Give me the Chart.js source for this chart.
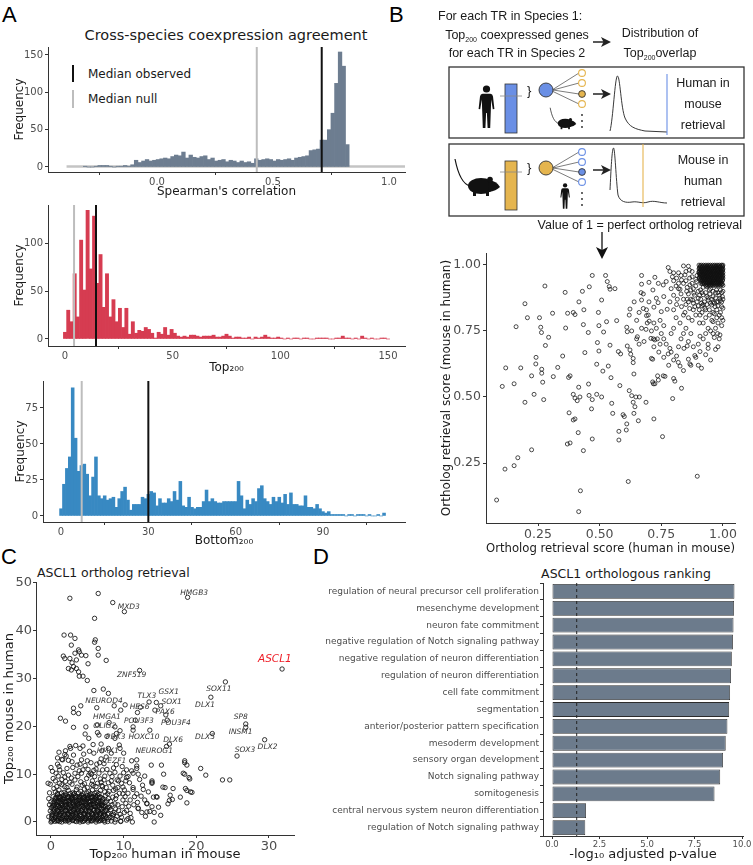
<!DOCTYPE html>
<html>
<head>
<meta charset="utf-8">
<title>Cross-species coexpression</title>
<script src="https://cdn.jsdelivr.net/npm/chart.js"></script>
<style>
  body { margin: 0; width: 753px; height: 865px; position: relative; background: #fff; overflow: hidden;
         font-family: 'DejaVu Sans', sans-serif; color: #1a1a1a; }
  canvas, svg { position: absolute; }
  .letter { position: absolute; font-family: 'Liberation Sans', Arial, sans-serif; font-size: 22px; line-height: 1; color: #000; }
  .ttl { position: absolute; white-space: nowrap; transform: translate(-50%, -50%); }
  .ttl.left { transform: translate(0, -50%); }
  .key { position: absolute; width: 2px; }
</style>
</head>
<body>

<div class="letter" style="left:2px;top:4px">A</div>
<div class="letter" style="left:389px;top:4px">B</div>
<div class="letter" style="left:1px;top:546px">C</div>
<div class="letter" style="left:313px;top:546px">D</div>

<div class="ttl" style="left:226px;top:35px;font-size:14.5px">Cross-species coexpression agreement</div>
<div class="key" style="left:72px;top:65px;height:17px;background:#111"></div>
<div class="ttl left" style="left:88px;top:74px;font-size:12px">Median observed</div>
<div class="key" style="left:72px;top:90px;height:18px;background:#bdbdbd"></div>
<div class="ttl left" style="left:88px;top:99px;font-size:12px">Median null</div>

<div class="ttl left" style="left:37px;top:572px;font-size:12.5px">ASCL1 ortholog retrieval</div>
<div class="ttl" style="left:626px;top:573px;font-size:12.5px">ASCL1 orthologous ranking</div>

<canvas id="histCor" width="410" height="182" style="left:0;top:20px"></canvas>
<canvas id="histTop" width="410" height="183" style="left:0;top:195px"></canvas>
<canvas id="histBottom" width="410" height="180" style="left:0;top:372px"></canvas>
<canvas id="retrieval" width="328" height="313" style="left:425px;top:245px"></canvas>
<canvas id="ascl1" width="300" height="305" style="left:0;top:560px"></canvas>
<canvas id="goBars" width="443" height="305" style="left:310px;top:560px"></canvas>

<!-- schematic of panel B -->
<svg width="373" height="262" style="left:380px;top:0" font-family="'Liberation Sans', Arial, sans-serif" font-size="12.5" fill="#1a1a1a">
  <defs>
    <g id="human" fill="#111">
      <circle cx="8.5" cy="4" r="3.6"/>
      <path d="M4.6,8.8 L12.4,8.8 Q14.6,9 15,11.5 L16.4,24 L14.8,24.3 L13.2,14.5 L12.8,26 L12.2,43 L9.6,43 L8.9,28 L8.1,28 L7.4,43 L4.8,43 L4.2,26 L3.8,14.5 L2.2,24.3 L0.6,24 L2,11.5 Q2.4,9 4.6,8.8 Z"/>
    </g>
    <g id="mouse">
      <path d="M17,30 C9,28 5,18 2,3" fill="none" stroke="#111" stroke-width="1.2"/>
      <ellipse cx="28" cy="30" rx="13" ry="8" fill="#111"/>
      <path d="M35,24 Q44,25 47,31 Q43,35 36,36 Z" fill="#111"/>
      <circle cx="37" cy="23.5" r="2.8" fill="#111"/>
      <rect x="20" y="36" width="3" height="4" fill="#111"/>
      <rect x="33" y="35" width="3" height="5" fill="#111"/>
    </g>
  </defs>

  <text x="58" y="20">For each TR in Species 1:</text>
  <text x="137" y="39" text-anchor="middle">Top<tspan font-size="7" dy="3">200</tspan><tspan dy="-3"> coexpressed genes</tspan></text>
  <text x="137" y="57" text-anchor="middle">for each TR in Species 2</text>
  <path d="M213,42 H224" stroke="#222" stroke-width="1.5"/>
  <path d="M221,37 L231,42 L221,47 L223.5,42 Z" fill="#222"/>
  <text x="280" y="37" text-anchor="middle">Distribution of</text>
  <text x="280" y="57" text-anchor="middle">Top<tspan font-size="7" dy="3">200</tspan><tspan dy="-3">overlap</tspan></text>

  <rect x="69" y="67" width="295" height="71" fill="none" stroke="#333" stroke-width="1.3"/>
  <rect x="69" y="144" width="295" height="72" fill="none" stroke="#333" stroke-width="1.3"/>

  <!-- human in mouse -->
  <use href="#human" transform="translate(98,85)"/>
  <rect x="125" y="84" width="12" height="49" fill="#6a8fe5" stroke="#333" stroke-width="0.8"/>
  <path d="M120,96 H142" stroke="#888" stroke-width="0.8"/>
  <text x="147" y="95" font-size="13">}</text>
  <g stroke="#444" stroke-width="0.7">
    <path d="M172,90 L199,73 M173,90 L199,83 M173,90 L199,94 M172,91 L199,104"/>
  </g>
  <circle cx="166" cy="90" r="7" fill="#6a8fe5" stroke="#333" stroke-width="0.9"/>
  <circle cx="202" cy="73" r="3.4" fill="#fff" stroke="#e5b54f" stroke-width="1.1"/>
  <circle cx="202" cy="83" r="3.4" fill="#fff" stroke="#e5b54f" stroke-width="1.1"/>
  <circle cx="202" cy="94" r="3.4" fill="#e5b54f" stroke="#333" stroke-width="0.9"/>
  <circle cx="202" cy="104" r="3.4" fill="#fff" stroke="#e5b54f" stroke-width="1.1"/>
  <circle cx="202" cy="115" r="0.9" fill="#222"/><circle cx="202" cy="121" r="0.9" fill="#222"/><circle cx="202" cy="127" r="0.9" fill="#222"/>
  <use href="#mouse" transform="translate(169,106) scale(0.58)"/>
  <path d="M213,94 H224" stroke="#222" stroke-width="1.5"/>
  <path d="M221,89 L231,94 L221,99 L223.5,94 Z" fill="#222"/>
  <path d="M230,131 C233,120 235,76 237.5,76 C240,76 241,108 245,118 C249,127 255,129 265,131 L287,132" fill="none" stroke="#222" stroke-width="0.9"/>
  <path d="M287,74 V135" stroke="#6a8fe5" stroke-width="1.1"/>
  <text x="323" y="87" text-anchor="middle">Human in</text>
  <text x="323" y="108" text-anchor="middle">mouse</text>
  <text x="323" y="129" text-anchor="middle">retrieval</text>

  <!-- mouse in human -->
  <use href="#mouse" transform="translate(73,156)"/>
  <rect x="125" y="161" width="12" height="49" fill="#e5b54f" stroke="#333" stroke-width="0.8"/>
  <path d="M120,172 H142" stroke="#888" stroke-width="0.8"/>
  <text x="147" y="172" font-size="13">}</text>
  <g stroke="#444" stroke-width="0.7">
    <path d="M172,168 L199,152 M173,168 L199,162 M173,168 L199,172 M172,169 L199,182"/>
  </g>
  <circle cx="166" cy="168" r="7" fill="#e5b54f" stroke="#333" stroke-width="0.9"/>
  <circle cx="202" cy="152" r="3.4" fill="#fff" stroke="#6a8fe5" stroke-width="1.1"/>
  <circle cx="202" cy="162" r="3.4" fill="#fff" stroke="#6a8fe5" stroke-width="1.1"/>
  <circle cx="202" cy="172" r="3.4" fill="#6a8fe5" stroke="#333" stroke-width="0.9"/>
  <circle cx="202" cy="182" r="3.4" fill="#fff" stroke="#6a8fe5" stroke-width="1.1"/>
  <circle cx="202" cy="193" r="0.9" fill="#222"/><circle cx="202" cy="199" r="0.9" fill="#222"/><circle cx="202" cy="205" r="0.9" fill="#222"/>
  <use href="#human" transform="translate(180,183) scale(0.6)"/>
  <path d="M213,170 H224" stroke="#222" stroke-width="1.5"/>
  <path d="M221,165 L231,170 L221,175 L223.5,170 Z" fill="#222"/>
  <path d="M230,190 C231,170 232,148 233.5,148 C235,148 236,180 238,195 C240,202 246,203 252,202 C258,201 262,204 268,202 C274,200 280,203 287,203" fill="none" stroke="#222" stroke-width="0.9"/>
  <path d="M263,144 V207" stroke="#e5b54f" stroke-width="1.1"/>
  <text x="323" y="164" text-anchor="middle">Mouse in</text>
  <text x="323" y="185" text-anchor="middle">human</text>
  <text x="323" y="206" text-anchor="middle">retrieval</text>

  <text x="362" y="229" text-anchor="end">Value of 1 = perfect ortholog retrieval</text>
  <path d="M222,232 V250" stroke="#111" stroke-width="1.3"/>
  <path d="M216,247 L222,259 L228,247 L222,250 Z" fill="#111"/>
</svg>

<script>
// ---- panel A: histograms (bin centre of first bar, bin width, counts) ----
var corBinStart = -0.31, corBinWidth = 0.0157;
var corCounts = [1, 0, 0, 1, 2, 2, 2, 1, 0, 1, 1, 2, 1, 3,
  9, 6, 8, 10, 8, 9, 10, 11, 12, 11, 14, 16, 15, 20, 12, 16, 13, 12, 14, 15, 10, 12, 8, 9, 10, 7, 9, 8, 6, 8, 6, 7, 5,
  11, 9, 10, 11, 10, 8, 10, 9, 10, 11, 9, 12,
  13, 14, 15, 22, 23,
  24, 36, 36, 50, 72, 112, 154, 135, 30];
var corNullRange = [-0.39, 1.07];
var corMedians = {observed: 0.71, nullValue: 0.43};

var topBinStart = 0, topBinWidth = 1.5;
var topCounts = [7, 30, 18, 68, 23, 103, 51, 134, 73, 128,
  58, 88, 33, 68, 23, 41, 18, 32, 12, 32,
  5, 18, 6, 9, 8, 12, 10, 6, 1, 7,
  5, 12, 4, 10, 6, 3, 2, 3, 2, 4,
  4, 3, 2, 3, 3, 3, 4, 2, 2, 3,
  5, 3, 1, 2, 2, 1, 1, 2, 0, 2,
  1, 2, 4, 2, 1, 1, 2, 1, 0, 1,
  0, 1, 1, 0, 1, 1, 0, 0, 1, 1,
  1, 1, 0, 0, 1, 1, 3, 1, 1, 0,
  1, 0, 3, 1, 0, 1, 0, 0, 1, 1, 0];
var topMedians = {observed: 14.4, nullValue: 4.2};

var bottomBinStart = 0, bottomBinWidth = 1;
var bottomCounts = [5, 22, 33, 41, 89, 54, 31, 35, 36, 29,
  14, 27, 41, 14, 12, 14, 11, 12, 13, 6,
  12, 17, 20, 11, 4, 8, 8, 8, 13, 12,
  15, 17, 16, 7, 12, 9, 9, 12, 10, 17,
  11, 24, 7, 6, 13, 6, 5, 6, 6, 10,
  18, 10, 12, 10, 9, 9, 10, 10, 10, 10,
  10, 24, 14, 5, 11, 8, 12, 10, 19, 21,
  12, 10, 8, 13, 10, 13, 9, 15, 8, 16,
  8, 8, 7, 7, 14, 6, 6, 5, 8, 5,
  3, 2, 3, 1, 1, 1, 1, 1, 0, 1,
  1, 0, 1, 1, 1, 0, 1, 0, 0, 1, 0, 2];
var bottomMedians = {observed: 30, nullValue: 7.1};

// ---- panel B: ortholog retrieval score, [human in mouse, mouse in human] ----
var retrievalScores = [
  [0.082, 0.11], [0.116, 0.227], [0.153, 0.24], [0.168, 0.27], [0.224, 0.30], [0.105, 0.54], [0.153, 0.55], [0.119, 0.61],
  [0.18, 0.61], [0.197, 0.48], [0.224, 0.58], [0.234, 0.51], [0.242, 0.65], [0.241, 0.625], [0.265, 0.605], [0.265, 0.59],
  [0.269, 0.556], [0.273, 0.49], [0.28, 0.695], [0.293, 0.726], [0.264, 0.744], [0.261, 0.764], [0.256, 0.80], [0.207, 0.80],
  [0.197, 0.853], [0.161, 0.766], [0.278, 0.92], [0.309, 0.817], [0.312, 0.577], [0.33, 0.612], [0.35, 0.655], [0.36, 0.896],
  [0.362, 0.761], [0.37, 0.817], [0.374, 0.574], [0.38, 0.58], [0.393, 0.82], [0.40, 0.812], [0.416, 0.86], [0.43, 0.90],
  [0.436, 0.83], [0.434, 0.774], [0.454, 0.744], [0.44, 0.668], [0.458, 0.917], [0.47, 0.96], [0.495, 0.82], [0.497, 0.77],
  [0.508, 0.867], [0.516, 0.746], [0.524, 0.96], [0.531, 0.937], [0.539, 0.918], [0.542, 0.908], [0.562, 0.91], [0.528, 0.785],
  [0.569, 0.789], [0.491, 0.706], [0.497, 0.674], [0.542, 0.696], [0.488, 0.624], [0.513, 0.598], [0.535, 0.617], [0.546, 0.573],
  [0.393, 0.51], [0.40, 0.496], [0.409, 0.486], [0.42, 0.50], [0.415, 0.537], [0.455, 0.549], [0.457, 0.506], [0.47, 0.49],
  [0.488, 0.51], [0.508, 0.50], [0.467, 0.455], [0.549, 0.476], [0.553, 0.438], [0.376, 0.44], [0.393, 0.413], [0.40, 0.417],
  [0.369, 0.322], [0.38, 0.326], [0.413, 0.365], [0.47, 0.341], [0.434, 0.297], [0.422, 0.145], [0.415, 0.066], [0.616, 0.18],
  [0.582, 0.543], [0.576, 0.672], [0.585, 0.663], [0.595, 0.433], [0.60, 0.426], [0.61, 0.398], [0.608, 0.375], [0.578, 0.37],
  [0.578, 0.337], [0.612, 0.693], [0.623, 0.678], [0.626, 0.662], [0.636, 0.646], [0.636, 0.63], [0.639, 0.587], [0.62, 0.524],
  [0.63, 0.505], [0.636, 0.48], [0.647, 0.50], [0.643, 0.463], [0.657, 0.41], [0.639, 0.438], [0.661, 0.50], [0.688, 0.48],
  [0.61, 0.764], [0.612, 0.747], [0.623, 0.833], [0.653, 0.728], [0.668, 0.895], [0.67, 0.96], [0.67, 0.927], [0.677, 0.89],
  [0.67, 0.867], [0.677, 0.835], [0.69, 0.808], [0.697, 0.81], [0.688, 0.756], [0.693, 0.78], [0.701, 0.787], [0.708, 0.722],
  [0.718, 0.72], [0.724, 0.716], [0.734, 0.72], [0.71, 0.646], [0.715, 0.643], [0.718, 0.55], [0.724, 0.55], [0.715, 0.557],
  [0.72, 0.417], [0.735, 0.58], [0.758, 0.58], [0.738, 0.564], [0.755, 0.35], [0.765, 0.578], [0.80, 0.57], [0.805, 0.56],
  [0.796, 0.494], [0.832, 0.533], [0.812, 0.655], [0.819, 0.631], [0.826, 0.617], [0.778, 0.663], [0.785, 0.684], [0.80, 0.76],
  [0.826, 0.78], [0.842, 0.684], [0.855, 0.693], [0.86, 0.643], [0.866, 0.625], [0.886, 0.657], [0.89, 0.65], [0.907, 0.672],
  [0.913, 0.609], [0.896, 0.20], [0.907, 0.73], [0.94, 0.70], [0.94, 0.684], [0.97, 0.68], [0.97, 0.76], [0.978, 0.74],
  [0.988, 0.735], [0.995, 0.77], [0.96, 0.785], [0.92, 0.78], [0.907, 0.81], [0.875, 0.79], [0.86, 0.80], [0.846, 0.82],
  [0.832, 0.842], [0.812, 0.85], [0.785, 0.86], [0.774, 0.832], [0.75, 0.823], [0.737, 0.857], [0.73, 0.874], [0.716, 0.905],
  [0.70, 0.934], [0.724, 0.953], [0.738, 0.93], [0.758, 0.924], [0.77, 0.937], [0.778, 0.99], [0.785, 0.975], [0.80, 0.97],
  [0.812, 0.95], [0.826, 0.908], [0.832, 0.943], [0.84, 0.996], [0.846, 0.962], [0.853, 0.90], [0.864, 0.98], [0.866, 0.924],
  [0.877, 0.867], [0.882, 0.893], [0.886, 0.842], [0.893, 0.937], [0.90, 0.874], [0.904, 0.83], [0.909, 0.905], [0.913, 0.855],
  [0.92, 0.887], [0.927, 0.836], [0.934, 0.918], [0.94, 0.867], [0.947, 0.89], [0.954, 0.848], [0.96, 0.88], [0.968, 0.842],
  [0.974, 0.905], [0.981, 0.86], [0.988, 0.874], [0.995, 0.842], [0.998, 0.88], [0.995, 0.80], [1.0, 0.836],
  [0.76, 0.88], [0.79, 0.91], [0.80, 0.885], [0.815, 0.87], [0.82, 0.93], [0.83, 0.96], [0.85, 0.94], [0.855, 0.87],
  [0.87, 0.905], [0.875, 0.955], [0.88, 0.83], [0.89, 0.81], [0.895, 0.96], [0.905, 0.78], [0.91, 0.93], [0.915, 0.82],
  [0.92, 0.85], [0.93, 0.80], [0.935, 0.88], [0.945, 0.83], [0.95, 0.91], [0.955, 0.79], [0.96, 0.86], [0.965, 0.815],
  [0.97, 0.875], [0.975, 0.83], [0.98, 0.895], [0.985, 0.81], [0.99, 0.905], [0.995, 0.86], [0.95, 0.75], [0.93, 0.74],
  [0.965, 0.725], [0.985, 0.72], [0.87, 0.74], [0.85, 0.76], [0.83, 0.72], [0.81, 0.80], [0.79, 0.74], [0.76, 0.77],
  [0.745, 0.70], [0.72, 0.78], [0.70, 0.86], [0.69, 0.83], [0.72, 0.84], [0.745, 0.79], [0.80, 0.83], [0.84, 0.81], [0.86, 0.86],
  [0.855, 0.915], [0.86, 0.89], [0.865, 0.95], [0.87, 0.87], [0.875, 0.93], [0.88, 0.91], [0.885, 0.885], [0.89, 0.92],
  [0.895, 0.86], [0.90, 0.90], [0.905, 0.885], [0.91, 0.87], [0.915, 0.895], [0.92, 0.915], [0.925, 0.86], [0.93, 0.895],
  [0.935, 0.85], [0.94, 0.875], [0.945, 0.905], [0.95, 0.855], [0.955, 0.87], [0.96, 0.90], [0.965, 0.855], [0.97, 0.895],
  [0.975, 0.86], [0.98, 0.845], [0.985, 0.885], [0.99, 0.865], [0.995, 0.895], [1.0, 0.87], [1.0, 0.90], [0.99, 0.82],
  [0.975, 0.80], [0.96, 0.82], [0.945, 0.81], [0.93, 0.83], [0.915, 0.845], [0.90, 0.845], [0.88, 0.855], [0.865, 0.835],
  [0.85, 0.85], [0.84, 0.87], [0.83, 0.89], [0.82, 0.91], [0.84, 0.93], [0.81, 0.92], [0.80, 0.94], [0.795, 0.955],
  [0.82, 0.97], [0.85, 0.975], [0.86, 0.995], [0.875, 0.975], [0.89, 0.945],
  [0.76, 0.72], [0.77, 0.70], [0.79, 0.67], [0.82, 0.69], [0.84, 0.74], [0.86, 0.71], [0.88, 0.69], [0.90, 0.70],
  [0.92, 0.72], [0.94, 0.76], [0.96, 0.74], [0.98, 0.78], [1.0, 0.79], [0.93, 0.66], [0.95, 0.64], [0.87, 0.62],
  [0.84, 0.60], [0.90, 0.62], [0.98, 0.69], [0.78, 0.62], [0.80, 0.64], [0.76, 0.65], [0.74, 0.67], [0.72, 0.69],
  [0.71, 0.75], [0.73, 0.76], [0.75, 0.74], [0.68, 0.71], [0.66, 0.70], [0.67, 0.76], [0.65, 0.79], [0.66, 0.82],
  [0.64, 0.86], [0.62, 0.81], [0.63, 0.75], [0.65, 0.72],
  // saturated block of near-perfect retrieval
  [0.903, 0.999], [0.912, 0.999], [0.921, 0.999], [0.931, 0.999], [0.94, 0.999], [0.949, 0.999], [0.958, 0.999], [0.967, 0.999],
  [0.976, 0.999], [0.985, 0.999], [0.994, 0.999], [1.0, 0.999],
  [0.907, 0.992], [0.916, 0.992], [0.925, 0.992], [0.934, 0.992], [0.944, 0.992], [0.953, 0.992], [0.962, 0.992], [0.971, 0.992],
  [0.98, 0.992], [0.989, 0.992], [0.998, 0.992],
  [0.903, 0.985], [0.912, 0.985], [0.921, 0.985], [0.93, 0.985], [0.939, 0.985], [0.948, 0.985], [0.957, 0.985], [0.966, 0.985],
  [0.975, 0.985], [0.984, 0.985], [0.993, 0.985], [1.0, 0.985],
  [0.906, 0.978], [0.915, 0.978], [0.924, 0.978], [0.934, 0.978], [0.943, 0.978], [0.952, 0.978], [0.961, 0.978], [0.97, 0.978],
  [0.979, 0.978], [0.988, 0.978], [0.997, 0.978],
  [0.902, 0.971], [0.911, 0.971], [0.92, 0.971], [0.929, 0.971], [0.938, 0.971], [0.947, 0.971], [0.956, 0.971], [0.965, 0.971],
  [0.974, 0.971], [0.983, 0.971], [0.992, 0.971], [1.0, 0.971],
  [0.905, 0.964], [0.914, 0.964], [0.923, 0.964], [0.932, 0.964], [0.941, 0.964], [0.95, 0.964], [0.959, 0.964], [0.968, 0.964],
  [0.977, 0.964], [0.986, 0.964], [0.995, 0.964],
  [0.908, 0.957], [0.917, 0.957], [0.926, 0.957], [0.935, 0.957], [0.944, 0.957], [0.953, 0.957], [0.962, 0.957], [0.971, 0.957],
  [0.98, 0.957], [0.989, 0.957], [0.998, 0.957],
  [0.904, 0.95], [0.913, 0.95], [0.922, 0.95], [0.931, 0.95], [0.94, 0.95], [0.949, 0.95], [0.958, 0.95], [0.967, 0.95],
  [0.976, 0.95], [0.985, 0.95], [0.994, 0.95], [1.0, 0.95],
  [0.909, 0.943], [0.918, 0.943], [0.927, 0.943], [0.936, 0.943], [0.945, 0.943], [0.954, 0.943], [0.963, 0.943], [0.972, 0.943],
  [0.981, 0.943], [0.99, 0.943], [0.999, 0.943],
  [0.912, 0.936], [0.921, 0.936], [0.93, 0.936], [0.939, 0.936], [0.948, 0.936], [0.957, 0.936], [0.966, 0.936], [0.975, 0.936],
  [0.984, 0.936], [0.993, 0.936],
  [0.916, 0.929], [0.925, 0.929], [0.934, 0.929], [0.943, 0.929], [0.952, 0.929], [0.961, 0.929], [0.97, 0.929], [0.979, 0.929],
  [0.988, 0.929], [0.997, 0.929],
  [0.93, 0.922], [0.94, 0.922], [0.95, 0.922], [0.96, 0.922], [0.97, 0.922], [0.98, 0.922], [0.99, 0.922], [1.0, 0.922],
  [0.908, 0.996], [0.917, 0.995], [0.926, 0.996], [0.936, 0.995], [0.945, 0.996], [0.954, 0.995], [0.963, 0.996], [0.972, 0.995],
  [0.981, 0.996], [0.99, 0.995], [0.998, 0.996],
  [0.905, 0.988], [0.914, 0.989], [0.923, 0.988], [0.932, 0.989], [0.941, 0.988], [0.95, 0.989], [0.959, 0.988], [0.968, 0.989],
  [0.977, 0.988], [0.986, 0.989], [0.995, 0.988],
  [0.909, 0.981], [0.918, 0.982], [0.927, 0.981], [0.936, 0.982], [0.945, 0.981], [0.954, 0.982], [0.963, 0.981], [0.972, 0.982],
  [0.981, 0.981], [0.99, 0.982], [0.999, 0.981],
  [0.904, 0.974], [0.913, 0.975], [0.922, 0.974], [0.931, 0.975], [0.94, 0.974], [0.949, 0.975], [0.958, 0.974], [0.967, 0.975],
  [0.976, 0.974], [0.985, 0.975], [0.994, 0.974],
  [0.907, 0.967], [0.916, 0.968], [0.925, 0.967], [0.934, 0.968], [0.943, 0.967], [0.952, 0.968], [0.961, 0.967], [0.97, 0.968],
  [0.979, 0.967], [0.988, 0.968], [0.997, 0.967],
  [0.91, 0.96], [0.919, 0.961], [0.928, 0.96], [0.937, 0.961], [0.946, 0.96], [0.955, 0.961], [0.964, 0.96], [0.973, 0.961],
  [0.982, 0.96], [0.991, 0.961], [1.0, 0.96],
  [0.906, 0.953], [0.915, 0.954], [0.924, 0.953], [0.933, 0.954], [0.942, 0.953], [0.951, 0.954], [0.96, 0.953], [0.969, 0.954],
  [0.978, 0.953], [0.987, 0.954], [0.996, 0.953],
  [0.911, 0.946], [0.92, 0.947], [0.929, 0.946], [0.938, 0.947], [0.947, 0.946], [0.956, 0.947], [0.965, 0.946], [0.974, 0.947],
  [0.983, 0.946], [0.992, 0.947],
  [0.916, 0.939], [0.925, 0.94], [0.934, 0.939], [0.943, 0.94], [0.952, 0.939], [0.961, 0.94], [0.97, 0.939], [0.979, 0.94],
  [0.988, 0.939], [0.997, 0.94],
  [0.92, 0.932], [0.929, 0.933], [0.938, 0.932], [0.947, 0.933], [0.956, 0.932], [0.965, 0.933], [0.974, 0.932], [0.983, 0.933],
  [0.992, 0.932], [0.935, 0.925], [0.945, 0.926], [0.955, 0.925], [0.965, 0.926], [0.975, 0.925], [0.985, 0.926], [0.995, 0.925]
];

// ---- panel C: ASCL1 Top200 overlap, [human in mouse, mouse in human] ----
var ascl1Points = [
  [2.6, 46.8], [6.5, 47.8], [8.5, 45.9], [10.1, 44.0], [6.0, 42.6], [18.8, 47.0],
  [1.8, 39.1], [2.7, 39.1], [3.3, 38.4], [6.1, 38.1], [6.0, 37.6], [6.5, 36.3], [7.6, 33.8], [6.5, 34.9], [1.7, 34.7], [1.9, 34.2],
  [2.8, 37.0], [3.3, 35.3], [3.8, 36.0], [3.9, 35.6], [4.2, 34.9], [4.8, 34.8], [5.1, 33.1], [2.6, 34.2], [2.9, 33.3], [3.5, 33.9],
  [3.1, 32.5], [2.4, 32.1], [2.8, 31.8], [3.5, 32.1], [3.8, 31.4], [3.9, 30.5], [4.4, 30.5], [5.0, 29.6], [12.2, 31.7],
  [5.9, 27.5], [7.2, 27.8], [7.9, 26.9], [6.3, 23.9], [8.7, 24.3], [10.2, 24.5], [9.6, 23.4], [3.1, 22.9], [3.1, 23.8], [4.1, 24.3],
  [3.8, 22.7], [1.3, 21.7], [2.0, 21.1], [3.1, 19.8], [6.4, 20.3], [8.0, 20.8], [4.8, 19.9], [4.7, 18.4], [6.4, 18.7], [6.6, 18.2],
  [5.2, 17.5], [5.8, 16.2], [4.4, 15.9], [6.9, 16.3], [3.4, 16.0], [2.6, 15.8], [2.0, 14.9], [1.1, 14.6], [2.7, 15.4], [4.0, 15.4],
  [5.3, 14.8], [5.9, 14.4], [1.6, 13.0], [2.1, 13.8], [3.1, 14.0], [4.2, 13.0], [5.0, 12.8], [5.5, 12.4], [6.3, 12.1], [0, 11.4], [1.2, 10.9],
  [9.0, 18.5], [8.8, 17.5], [9.5, 19.1], [8.8, 19.9], [7.7, 17.9], [7.9, 15.4], [8.3, 14.4], [9.4, 16.1], [9.5, 15.4], [10.0, 14.4],
  [11.3, 19.9], [11.3, 19.2], [11.6, 21.3], [11.9, 22.9], [12.3, 24.0], [13.5, 25.1], [14.5, 25.0], [15.1, 24.3], [14.3, 23.4],
  [15.8, 22.4], [16.0, 21.3], [13.6, 19.2], [11.1, 12.8], [11.8, 13.0], [13.8, 11.9], [15.2, 11.9], [10.4, 10.9], [11.3, 10.2],
  [11.8, 11.2], [10.6, 9.5], [15.9, 15.8], [16.3, 16.3],
  [22.0, 26.1], [24.0, 29.3], [26.8, 20.5], [26.8, 19.8], [22.2, 18.5], [29.4, 17.2], [25.6, 13.8], [31.8, 32.0],
  [18.4, 12.8], [18.7, 11.9], [20.6, 11.2], [21.3, 9.8], [23.6, 8.8], [24.6, 8.8], [18.7, 4.0], [18.5, 7.0], [19.0, 9.3], [19.2, 6.3],
  [18.2, 10.2], [16.8, 7.0], [15.4, 7.3], [16.4, 5.6], [16.1, 3.8], [16.7, 4.7], [14.5, 5.3], [14.2, 2.0], [13.9, 3.2], [13.6, 2.2],
  [14.2, 0], [13.2, 3.9], [12.7, 6.8], [13.9, 8.6], [13.9, 8.1], [12.6, 7.7], [11.3, 6.8], [11.5, 5.3], [12.0, 2.9], [12.5, 2.0],
  [10.9, 1.8], [11.0, 0.9], [11.2, 0], [10.4, 0.4], [9.9, 4.6], [10.2, 5.3], [10.1, 6.7], [9.7, 8.1], [9.1, 8.8], [8.5, 7.7],
  [8.1, 10.2], [7.3, 8.8], [7.1, 7.4], [6.6, 10.2], [6.0, 9.5], [5.4, 10.2], [4.4, 10.9], [3.3, 10.2], [2.4, 9.8], [0.7, 10.2],
  [-0.4, 8.1], [0.3, 9.1], [1.5, 8.9], [1.9, 7.4], [-0.1, 7.9], [1.5, 13.1], [1.9, 14.1], [4.0, 12.1], [4.2, 10.2], [5.6, 10.0],
  [5.1, 11.0], [6.7, 12.4], [7.7, 11.0], [8.3, 8.6], [9.3, 8.6], [10.0, 10.3], [10.4, 9.3], [11.1, 10.7], [11.8, 11.7], [12.0, 10.0],
  [11.3, 7.2], [11.8, 5.9], [12.0, 2.8], [13.2, 3.8], [13.2, 2.1], [13.9, 8.3], [14.1, 5.2], [14.6, 5.2], [15.5, 10.0], [15.7, 7.2],
  [16.3, 4.5], [17.8, 5.2], [18.4, 10.0], [18.7, 6.6], [19.4, 6.2], [19.1, 9.0], [18.4, 12.4], [10.4, 2.4], [10.6, 0.7], [9.7, 1.0],
  [9.3, 2.4], [8.8, 3.8], [9.0, 5.5], [8.6, 6.6], [8.1, 3.1],
  [7.9, 4.9], [8.5, 5.2], [9.2, 7.2], [9.9, 7.3], [10.8, 8.2], [12.2, 8.9], [12.9, 9.6], [13.4, 6.3], [14.8, 3.1], [15.1, 1.4],
  [12.9, 4.6], [11.9, 4.1], [10.7, 3.3], [9.6, 0.2], [9.1, 1.2], [8.6, 1.6], [8.9, 2.7], [7.9, 8.2], [7.4, 9.6], [6.4, 8.1],
  [5.7, 8.6], [4.9, 9.1], [4.1, 8.4], [3.3, 8.8], [2.6, 8.3], [1.9, 9.4], [1.2, 8.1], [0.4, 7.0], [-0.2, 6.1], [-0.3, 4.9],
  [-0.2, 3.6], [6.9, 13.2], [7.6, 13.6], [3.6, 11.9], [2.9, 12.6], [0.9, 12.1], [6.2, 11.1], [7.1, 10.9], [9.0, 12.0], [8.6, 11.3],
  [0.6, 8.6], [1.0, 9.6], [1.7, 10.3], [2.2, 11.2], [2.8, 9.2], [3.7, 9.5], [4.6, 8.0], [5.2, 9.8], [5.9, 10.8], [6.8, 9.0],
  [7.6, 7.2], [8.0, 6.4], [8.9, 6.9], [9.5, 9.6], [10.3, 8.6], [2.0, 8.5], [3.0, 11.4], [4.7, 11.8], [5.8, 7.6], [6.9, 8.3],
  [0.2, 10.6], [1.1, 11.6], [3.9, 10.7], [7.3, 12.2], [8.8, 10.4], [9.8, 11.6], [10.9, 4.6], [11.4, 3.6], [12.4, 5.4], [13.0, 1.2],
  [9.9, 5.9], [8.2, 4.3], [7.9, 0.6], [8.4, 0.9], [9.2, 3.6], [10.1, 2.0], [0.9, 13.4], [2.4, 12.9], [4.5, 14.2], [7.0, 14.9],
  // dense cloud near the origin
  [0.1, 0.2], [0.6, 0.9], [1.2, 0.1], [1.7, 0.6], [2.3, 0.3], [2.8, 0.9], [3.3, 0.2], [3.9, 0.7], [4.4, 0.1], [4.9, 0.8], [5.5, 0.3],
  [6.1, 0.9], [6.6, 0.2], [7.2, 0.6], [7.8, 0.1], [-0.3, 1.1], [0.4, 1.5], [1.0, 1.2], [1.5, 1.8], [2.1, 1.1], [2.6, 1.6], [3.1, 1.3],
  [3.6, 1.9], [4.2, 1.2], [4.7, 1.7], [5.2, 1.1], [5.8, 1.6], [6.3, 1.2], [6.9, 1.8], [7.5, 1.3], [8.1, 1.0],
  [-0.1, 2.3], [0.5, 2.6], [1.1, 2.2], [1.6, 2.9], [2.2, 2.4], [2.7, 2.1], [3.2, 2.8], [3.8, 2.3], [4.3, 2.7], [4.8, 2.2], [5.4, 2.9],
  [5.9, 2.4], [6.5, 2.1], [7.0, 2.7], [7.6, 2.3], [8.2, 2.6],
  [0.2, 3.3], [0.8, 3.7], [1.3, 3.1], [1.9, 3.6], [2.4, 3.2], [3.0, 3.8], [3.5, 3.3], [4.0, 3.9], [4.6, 3.4], [5.1, 3.1], [5.6, 3.7],
  [6.2, 3.2], [6.7, 3.8], [7.3, 3.4], [7.9, 3.1], [8.4, 3.6],
  [0.0, 4.2], [0.6, 4.6], [1.2, 4.1], [1.7, 4.7], [2.3, 4.3], [2.9, 4.8], [3.4, 4.2], [3.9, 4.6], [4.5, 4.1], [5.0, 4.7], [5.5, 4.3],
  [6.1, 4.8], [6.6, 4.2], [7.1, 4.6], [7.7, 4.4],
  [0.3, 5.3], [0.9, 5.7], [1.4, 5.1], [2.0, 5.6], [2.5, 5.2], [3.1, 5.8], [3.6, 5.3], [4.2, 5.6], [4.7, 5.1], [5.3, 5.7], [5.8, 5.2],
  [6.4, 5.6], [6.9, 5.1], [7.5, 5.5],
  [0.6, 6.3], [1.1, 6.7], [1.8, 6.2], [2.4, 6.6], [3.0, 6.1], [3.5, 6.8], [4.1, 6.4], [4.6, 6.9], [5.2, 6.3], [5.7, 6.7], [6.3, 6.2],
  [6.8, 6.6], [7.4, 6.3], [0.8, 7.4], [1.5, 7.8], [2.2, 7.2], [2.9, 7.9], [3.6, 7.3], [4.3, 7.7], [5.0, 7.2], [5.6, 7.9], [6.2, 7.4], [7.0, 7.6],
  [0.35, 0.55], [0.9, 0.4], [1.45, 0.5], [2.0, 0.65], [2.55, 0.5], [3.1, 0.6], [3.7, 0.45], [4.2, 0.5], [4.75, 0.55], [5.3, 0.6],
  [5.85, 0.4], [6.4, 0.55], [6.95, 0.5], [0.2, 1.5], [0.75, 1.65], [1.3, 1.4], [1.85, 1.55], [2.4, 1.5], [2.95, 1.7], [3.5, 1.45],
  [4.05, 1.5], [4.6, 1.45], [5.15, 1.6], [5.7, 1.4], [6.25, 1.55], [6.8, 1.5], [7.35, 1.65],
  [0.3, 2.7], [0.85, 2.5], [1.4, 2.65], [1.95, 2.5], [2.5, 2.75], [3.05, 2.55], [3.6, 2.6], [4.15, 2.45], [4.7, 2.7], [5.25, 2.5],
  [5.8, 2.65], [6.35, 2.55], [6.9, 2.7], [0.5, 3.6], [1.05, 3.45], [1.6, 3.5], [2.15, 3.65], [2.7, 3.4], [3.25, 3.55], [3.8, 3.6],
  [4.35, 3.45], [4.9, 3.55], [5.45, 3.65], [6.0, 3.4], [6.55, 3.55], [7.1, 3.6],
  [0.8, 4.45], [1.35, 4.6], [1.9, 4.35], [2.45, 4.5], [3.0, 4.55], [3.55, 4.4], [4.1, 4.5], [4.65, 4.6], [5.2, 4.4], [5.75, 4.5],
  [6.3, 4.55], [1.1, 5.4], [1.7, 5.5], [2.3, 5.35], [2.8, 5.45], [3.3, 5.5], [3.9, 5.3], [4.4, 5.45], [5.0, 5.5], [5.5, 5.35], [6.1, 5.45],
  [8.9, 0.5], [9.5, 1.6], [8.7, 2.0], [9.8, 3.2], [10.3, 3.9], [8.9, 4.9], [9.4, 6.0], [10.6, 6.0], [7.8, 5.9], [8.4, 9.5],
  [0.0, 0.0], [0.5, 0.15], [1.0, 0.3], [1.5, 0.0], [2.0, 0.2], [2.5, 0.0], [3.0, 0.3], [3.5, 0.1], [4.0, 0.0], [4.6, 0.3], [5.1, 0.0],
  [5.6, 0.2], [6.2, 0.0], [6.8, 0.3], [7.4, 0.0], [8.3, 0.2], [8.8, 0.0], [9.6, 0.1],
  [0.05, 0.8], [0.55, 1.05], [1.05, 0.75], [1.6, 1.0], [2.15, 0.8], [2.65, 1.1], [3.2, 0.85], [3.75, 1.05], [4.3, 0.8], [4.85, 1.1],
  [5.4, 0.85], [5.95, 1.05], [6.5, 0.8], [7.05, 1.1], [7.6, 0.85], [8.5, 1.4],
  [0.15, 1.95], [0.7, 2.1], [1.25, 1.85], [1.8, 2.15], [2.35, 1.9], [2.9, 2.2], [3.45, 1.95], [4.0, 2.1], [4.55, 1.9], [5.1, 2.15],
  [5.65, 1.95], [6.2, 2.1], [6.75, 1.9], [7.3, 2.15], [7.9, 1.85],
  [0.05, 3.0], [0.6, 3.15], [1.15, 2.95], [1.7, 3.2], [2.25, 3.0], [2.8, 3.15], [3.35, 2.95], [3.9, 3.2], [4.45, 3.0], [5.0, 3.2],
  [5.55, 2.95], [6.1, 3.15], [6.65, 3.0], [7.2, 3.15], [7.75, 2.9],
  [0.3, 3.95], [0.85, 4.1], [1.4, 3.9], [1.95, 4.15], [2.5, 3.95], [3.05, 4.1], [3.6, 3.9], [4.15, 4.1], [4.7, 3.95], [5.25, 4.15],
  [5.8, 3.9], [6.35, 4.1], [6.9, 3.95], [7.45, 4.1],
  [0.55, 4.9], [1.1, 5.05], [1.65, 4.85], [2.2, 5.0], [2.75, 4.9], [3.3, 5.1], [3.85, 4.85], [4.4, 5.0], [4.95, 4.9], [5.5, 5.05],
  [6.05, 4.85], [6.6, 5.05], [7.15, 4.9],
  [0.9, 5.95], [1.45, 6.05], [2.05, 5.9], [2.65, 6.0], [3.25, 5.95], [3.8, 6.05], [4.4, 5.9], [4.95, 6.05], [5.5, 5.9], [6.05, 6.0], [6.6, 5.95],
  [0.25, 0.4], [0.8, 0.2], [1.3, 0.7], [1.85, 0.35], [2.4, 0.75], [2.95, 0.4], [3.5, 0.8], [4.05, 0.35], [4.6, 0.7], [5.15, 0.35],
  [5.7, 0.75], [6.25, 0.4], [6.8, 0.75], [7.3, 0.3],
  [0.1, 1.3], [0.65, 1.35], [1.2, 1.6], [1.75, 1.25], [2.3, 1.7], [2.85, 1.3], [3.4, 1.65], [3.95, 1.3], [4.5, 1.65], [5.05, 1.35],
  [5.6, 1.75], [6.15, 1.3], [6.7, 1.65], [7.25, 1.3], [7.8, 1.6],
  [0.4, 2.2], [0.95, 2.4], [1.5, 2.15], [2.05, 2.35], [2.6, 2.2], [3.15, 2.45], [3.7, 2.15], [4.25, 2.35], [4.8, 2.45], [5.35, 2.2],
  [5.9, 2.45], [6.45, 2.3], [7.0, 2.2], [7.55, 2.5],
  [0.35, 3.45], [0.9, 3.25], [1.45, 3.5], [2.0, 3.3], [2.55, 3.55], [3.1, 3.3], [3.65, 3.55], [4.2, 3.25], [4.75, 3.5], [5.3, 3.35],
  [5.85, 3.55], [6.4, 3.3], [6.95, 3.5], [7.5, 3.3],
  [0.45, 4.3], [1.0, 4.25], [1.55, 4.45], [2.1, 4.2], [2.65, 4.4], [3.2, 4.3], [3.75, 4.45], [4.3, 4.25], [4.85, 4.4], [5.4, 4.2],
  [5.95, 4.45], [6.5, 4.3], [7.05, 4.25],
  [0.7, 5.15], [1.25, 5.25], [1.8, 5.05], [2.35, 5.2], [2.9, 5.1], [3.45, 5.25], [4.0, 5.1], [4.55, 5.2], [5.1, 5.1], [5.65, 5.25],
  [6.2, 5.15], [6.75, 5.25]
];
var geneNames = ['HMGB3', 'MXD3', 'ZNF519', 'SOX11', 'TLX3', 'GSX1', 'NEUROD4', 'SOX1', 'DLX1', 'HES6', 'PAX6', 'HMGA1', 'SP8',
  'POU3F3', 'POU3F4', 'OLIG2', 'INSM1', 'PBX3', 'HOXC10', 'DLX5', 'DLX6', 'DLX2', 'HMX1', 'NEUROG1', 'SOX3', 'VEZF1'];
var geneLabelX = [19.7, 10.7, 11.1, 23.1, 13.2, 16.2, 7.3, 16.6, 21.2, 12.2, 15.7, 7.7, 26.1, 12.1, 17.2, 7.4, 26.1, 8.9, 12.8,
  21.2, 16.8, 29.8, 7.8, 14.2, 26.7, 8.7];
var geneLabelY = [47.9, 45.0, 30.8, 27.8, 26.4, 27.2, 25.3, 25.1, 24.5, 24.0, 23.0, 22.0, 22.0, 21.1, 20.7, 20.1, 18.8, 17.8, 17.8,
  17.8, 17.2, 15.7, 14.9, 14.9, 15.1, 12.8];
var focusGene = {name: 'ASCL1', x: 30.8, y: 34.1};

// ---- panel D: GO enrichment ----
var goTerms = ['regulation of neural precursor cell proliferation', 'mesenchyme development', 'neuron fate commitment',
  'negative regulation of Notch signaling pathway', 'negative regulation of neuron differentiation',
  'regulation of neuron differentiation', 'cell fate commitment', 'segmentation', 'anterior/posterior pattern specification',
  'mesoderm development', 'sensory organ development', 'Notch signaling pathway', 'somitogenesis',
  'central nervous system neuron differentiation', 'regulation of Notch signaling pathway'];
var goScores = [9.6, 9.58, 9.55, 9.52, 9.46, 9.42, 9.37, 9.32, 9.23, 9.14, 9.0, 8.85, 8.55, 1.79, 1.75];
var goThreshold = 1.3;

Chart.defaults.font.family = "'DejaVu Sans', sans-serif";
Chart.defaults.color = '#4d4d4d';
Chart.defaults.animation = false;

// vertical reference lines drawn at scale values
var vlinePlugin = {
  id: 'vlines',
  afterDatasetsDraw: function (chart, args, opts) {
    var ctx = chart.ctx, area = chart.chartArea, xs = chart.scales.x;
    (opts.lines || []).forEach(function (l) {
      var px = xs.getPixelForValue(l.value);
      ctx.save();
      ctx.strokeStyle = l.color;
      ctx.lineWidth = l.width;
      ctx.setLineDash(l.dash || []);
      ctx.beginPath();
      ctx.moveTo(px, area.top);
      ctx.lineTo(px, area.bottom);
      ctx.stroke();
      ctx.restore();
    });
  }
};

// gene names in panel C
var geneLabelPlugin = {
  id: 'geneLabels',
  afterDatasetsDraw: function (chart) {
    var ctx = chart.ctx, xs = chart.scales.x, ys = chart.scales.y;
    ctx.save();
    ctx.textAlign = 'center';
    ctx.textBaseline = 'middle';
    ctx.fillStyle = '#333';
    ctx.font = "italic 7.5px 'DejaVu Sans'";
    geneNames.forEach(function (g, i) {
      ctx.fillText(g, xs.getPixelForValue(geneLabelX[i]), ys.getPixelForValue(geneLabelY[i]));
    });
    ctx.fillStyle = '#ee1c25';
    ctx.font = "italic 10.5px 'DejaVu Sans'";
    ctx.fillText(focusGene.name, xs.getPixelForValue(focusGene.x), ys.getPixelForValue(focusGene.y));
    ctx.restore();
  }
};

function fitW(w) { return function (s) { s.width = w; s.paddingTop = 0; s.paddingBottom = 0; }; }
function fitH(h) { return function (s) { s.height = h; s.paddingLeft = 0; s.paddingRight = 0; }; }
function setTicks(vals) { return function (s) { s.ticks = vals.map(function (v) { return {value: v}; }); }; }

function axis(extra) {
  var base = {
    border: {display: true, color: '#333', width: 1},
    grid: {display: true, drawOnChartArea: false, drawTicks: true, tickLength: 3, color: '#333'}
  };
  return Object.assign(base, extra);
}

function toBins(start, width, counts) {
  return counts.map(function (c, i) { return {x: start + i * width, y: c}; });
}

function histogram(id, cfg) {
  var datasets = [{
    type: 'bar',
    data: toBins(cfg.binStart, cfg.binWidth, cfg.counts),
    backgroundColor: cfg.color,
    borderWidth: 0,
    barPercentage: 1,
    categoryPercentage: 1,
    order: 1
  }];
  if (cfg.nullLine) {
    datasets.push({
      type: 'line',
      data: [{x: cfg.nullLine[0], y: 0.7}, {x: cfg.nullLine[1], y: 0.7}],
      borderColor: '#c4c4c4',
      borderWidth: 2.5,
      pointRadius: 0,
      order: 2
    });
  }
  return new Chart(document.getElementById(id), {
    type: 'bar',
    data: {datasets: datasets},
    plugins: [vlinePlugin],
    options: {
      responsive: false,
      layout: {padding: {top: cfg.padTop, right: 5, left: 0, bottom: 0}},
      plugins: {
        legend: {display: false},
        tooltip: {enabled: false},
        vlines: {lines: [
          {value: cfg.medians.nullValue, color: '#bdbdbd', width: 2},
          {value: cfg.medians.observed, color: '#111', width: 2}
        ]}
      },
      scales: {
        x: axis({
          type: 'linear', min: cfg.xMin, max: cfg.xMax, offset: false,
          afterBuildTicks: setTicks(cfg.xTicks), afterFit: fitH(cfg.xAxisH),
          ticks: {font: {size: 10}, padding: 1, maxRotation: 0, autoSkip: false, callback: cfg.xFmt},
          title: {display: true, text: cfg.xTitle, color: '#1a1a1a', font: {size: 12}, padding: {top: 0, bottom: cfg.xTitlePad}}
        }),
        y: axis({
          min: cfg.yMin, max: cfg.yMax,
          afterBuildTicks: setTicks(cfg.yTicks), afterFit: fitW(cfg.yAxisW),
          ticks: {font: {size: 10}, padding: 2},
          title: {display: true, text: 'Frequency', color: '#1a1a1a', font: {size: 12}, padding: {top: cfg.yTitlePad, bottom: 0}}
        })
      }
    }
  });
}

histogram('histCor', {
  binStart: corBinStart, binWidth: corBinWidth, counts: corCounts, color: '#6d7d90', nullLine: corNullRange,
  medians: corMedians, xMin: -0.47, xMax: 1.069, yMin: -6.7, yMax: 160.7,
  xTicks: [0, 0.5, 1.0], yTicks: [0, 50, 100, 150],
  xFmt: function (v) { return Number(v).toFixed(1); },
  xTitle: "Spearman's correlation", padTop: 27, xAxisH: 30, yAxisW: 48, xTitlePad: 2.8, yTitlePad: 12.8
});

histogram('histTop', {
  binStart: topBinStart, binWidth: topBinWidth, counts: topCounts, color: '#d63c51',
  medians: topMedians, xMin: -7.9, xMax: 157.9, yMin: -7.3, yMax: 139.6,
  xTicks: [0, 50, 100, 150], yTicks: [0, 50, 100],
  xFmt: function (v) { return v; },
  xTitle: 'Top₂₀₀', padTop: 10, xAxisH: 32, yAxisW: 48, xTitlePad: 2.8, yTitlePad: 12.8
});

histogram('histBottom', {
  binStart: bottomBinStart, binWidth: bottomBinWidth, counts: bottomCounts, color: '#3889c2',
  medians: bottomMedians, xMin: -6.2, xMax: 118.2, yMin: -4.2, yMax: 93.75,
  xTicks: [0, 30, 60, 90], yTicks: [0, 25, 50, 75],
  xFmt: function (v) { return v; },
  xTitle: 'Bottom₂₀₀', padTop: 9, xAxisH: 30, yAxisW: 43, xTitlePad: 3.8, yTitlePad: 13.8
});

// panel B scatter
new Chart(document.getElementById('retrieval'), {
  type: 'scatter',
  data: {datasets: [{
    data: retrievalScores.map(function (p) { return {x: p[0], y: p[1]}; }),
    pointRadius: 2, pointBorderWidth: 0.75, pointBackgroundColor: 'rgba(0,0,0,0)', pointBorderColor: '#111'
  }]},
  options: {
    responsive: false,
    layout: {padding: {top: 8, right: 18, left: 0, bottom: 0}},
    plugins: {legend: {display: false}, tooltip: {enabled: false}},
    scales: {
      x: axis({
        type: 'linear', min: 0.039, max: 1.049,
        afterBuildTicks: setTicks([0.25, 0.5, 0.75, 1.0]), afterFit: fitH(35),
        ticks: {font: {size: 12.5}, padding: 1, maxRotation: 0, autoSkip: false, callback: function (v) { return Number(v).toFixed(2); }},
        title: {display: true, text: 'Ortholog retrieval score (human in mouse)', color: '#1a1a1a', font: {size: 12}, padding: {top: 0, bottom: 1.8}}
      }),
      y: axis({
        type: 'linear', min: 0.023, max: 1.045,
        afterBuildTicks: setTicks([0.25, 0.5, 0.75, 1.0]), afterFit: fitW(61),
        ticks: {font: {size: 12.5}, padding: 2, callback: function (v) { return Number(v).toFixed(2); }},
        title: {display: true, text: 'Ortholog retrieval score (mouse in human)', color: '#1a1a1a', font: {size: 12}, padding: {top: 14.8, bottom: 0}}
      })
    }
  }
});

// panel C scatter
new Chart(document.getElementById('ascl1'), {
  type: 'scatter',
  data: {datasets: [{
    data: ascl1Points.map(function (p) { return {x: p[0], y: p[1]}; }),
    pointRadius: 2.2, pointBorderWidth: 0.85, pointBackgroundColor: 'rgba(0,0,0,0)', pointBorderColor: '#111'
  }]},
  plugins: [geneLabelPlugin],
  options: {
    responsive: false,
    layout: {padding: {top: 22, right: 6, left: 0, bottom: 0}},
    plugins: {legend: {display: false}, tooltip: {enabled: false}},
    scales: {
      x: axis({
        type: 'linear', min: -2.06, max: 33.44,
        afterBuildTicks: setTicks([0, 10, 20, 30]), afterFit: fitH(30),
        ticks: {font: {size: 13}, padding: 1, maxRotation: 0, autoSkip: false},
        title: {display: true, text: 'Top₂₀₀ human in mouse', color: '#1a1a1a', font: {size: 13}, padding: {top: 0, bottom: 2.2}}
      }),
      y: axis({
        type: 'linear', min: -2.72, max: 50.2,
        afterBuildTicks: setTicks([0, 10, 20, 30, 40, 50]), afterFit: fitW(36),
        ticks: {font: {size: 13}, padding: 1},
        title: {display: true, text: 'Top₂₀₀ mouse in human', color: '#1a1a1a', font: {size: 13}, padding: {top: 2.2, bottom: 0}}
      })
    }
  }
});

// panel D bars
new Chart(document.getElementById('goBars'), {
  type: 'bar',
  data: {
    labels: goTerms,
    datasets: [{
      data: goScores,
      backgroundColor: '#6c7b8c',
      borderColor: '#2b2b2b',
      borderWidth: 0.8,
      borderSkipped: false,
      barPercentage: 0.88,
      categoryPercentage: 1
    }]
  },
  plugins: [vlinePlugin],
  options: {
    responsive: false,
    indexAxis: 'y',
    layout: {padding: {top: 23, right: 10, left: 0, bottom: 0}},
    plugins: {
      legend: {display: false},
      tooltip: {enabled: false},
      vlines: {lines: [{value: goThreshold, color: '#222', width: 1, dash: [3, 3]}]}
    },
    scales: {
      x: axis({
        type: 'linear', min: -0.474, max: 10.05,
        afterBuildTicks: setTicks([0, 2.5, 5, 7.5, 10]), afterFit: fitH(29),
        ticks: {font: {size: 8.5}, padding: 1, maxRotation: 0, autoSkip: false, callback: function (v) { return Number(v).toFixed(1); }},
        title: {display: true, text: '-log₁₀ adjusted p-value', color: '#1a1a1a', font: {size: 13}, padding: {top: 0, bottom: 2.2}}
      }),
      y: axis({
        type: 'category',
        afterFit: fitW(233),
        ticks: {font: {size: 9}, padding: 1, autoSkip: false}
      })
    }
  }
});
</script>
</body>
</html>
